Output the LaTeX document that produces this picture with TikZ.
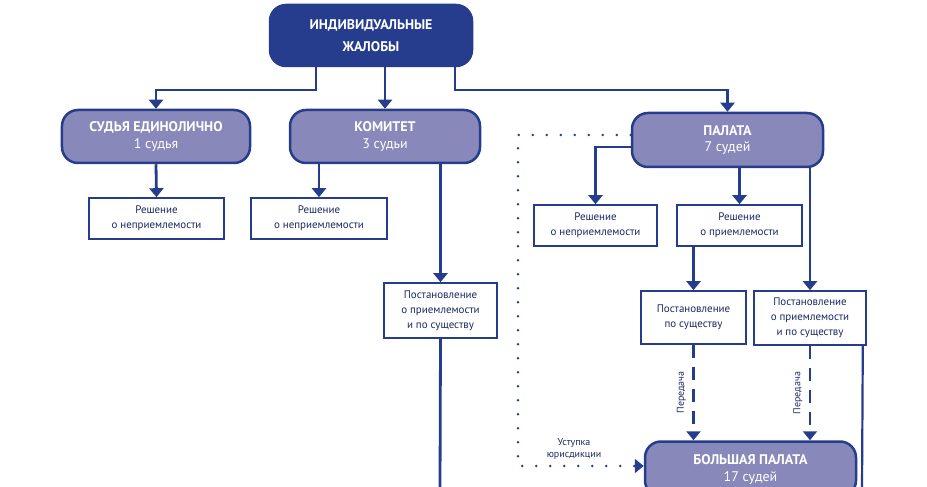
\documentclass[tikz,border=0pt]{standalone}
\usepackage{fontspec}
\setmainfont{PT Sans}
\usetikzlibrary{arrows.meta}
\definecolor{echrdark}{HTML}{263C8C}
\definecolor{echrmid}{HTML}{8889BA}
\tikzset{
  big/.style={draw=echrdark, line width=2.5bp, fill=echrmid, rounded corners=16bp,
    text=white, align=center, font=\fontsize{14}{17}\selectfont, inner sep=0pt},
  small/.style={draw=echrdark, line width=1.6bp, fill=white, text=echrdark!70!black,
    align=center, font=\fontsize{11}{15}\selectfont, inner sep=0pt},
  link/.style={draw=echrdark, line width=2.8bp},
  arr/.style={link, -{Triangle[width=14bp,length=9bp]}},
}
\begin{document}
\begin{tikzpicture}[x=1bp,y=-1bp]
\useasboundingbox (0,0) rectangle (927,487);
% boxes
\node[big, fill=echrdark, minimum width=202bp, minimum height=61bp, font=\bfseries\fontsize{14}{22}\selectfont] (top) at (371,35.5) {ИНДИВИДУАЛЬНЫЕ\\ЖАЛОБЫ};
\node[big, minimum width=188bp, minimum height=53bp] (judge) at (156,136.5) {\textbf{СУДЬЯ ЕДИНОЛИЧНО}\\1 судья};
\node[big, minimum width=190bp, minimum height=53bp] (comm) at (385,136.5) {\textbf{КОМИТЕТ}\\3 судьи};
\node[big, minimum width=191bp, minimum height=54bp] (chamber) at (727.5,140) {\textbf{ПАЛАТА}\\7 судей};
\node[big, minimum width=211bp, minimum height=55bp] (grand) at (750.5,469) {\textbf{БОЛЬШАЯ ПАЛАТА}\\17 судей};

\node[small, minimum width=135bp, minimum height=41bp] (inadm1) at (156.5,218.5) {Решение\\о неприемлемости};
\node[small, minimum width=136bp, minimum height=41bp] (inadm2) at (319,218.5) {Решение\\о неприемлемости};
\node[small, minimum width=113bp, minimum height=55bp] (commjudg) at (440.5,310.5) {Постановление\\о приемлемости\\и по существу};
\node[small, minimum width=123bp, minimum height=41bp] (inadm3) at (595.5,225.5) {Решение\\о неприемлемости};
\node[small, minimum width=125bp, minimum height=41bp] (adm) at (739.5,225.5) {Решение\\о приемлемости};
\node[small, minimum width=105bp, minimum height=53bp] (merits) at (693.5,317.5) {Постановление\\по существу};
\node[small, minimum width=112bp, minimum height=54bp] (both) at (810,318) {Постановление\\о приемлемости\\и по существу};

% connectors
\coordinate (bendL) at (316,90);
\coordinate (bendR) at (455,90);
\draw[arr] (top.south -| bendL) -- (bendL) -| (judge.north);
\draw[arr] (top.south) ++(14,0) -- (comm.north -| 385,0);
\draw[arr] (top.south -| bendR) -- (bendR) -| (chamber.north);
\draw[arr] (judge.south) -- (inadm1.north);
\draw[arr] (comm.south -| inadm2.north) -- (inadm2.north);
\draw[arr] (comm.south -| commjudg.north) -- (commjudg.north);
\coordinate (commend) at (440,490);
\draw[link] (commjudg.south) -- (commend);
\draw[arr] (chamber.west |- 0,147) -| (inadm3.north);
\draw[arr] (chamber.south -| adm.north) -- (adm.north);
\draw[arr] (chamber.south -| both.north) -- (both.north);
\draw[arr] (adm.south -| merits.north) -- (merits.north);
\draw[arr, dash pattern=on 13bp off 9bp] (merits.south) -- (grand.north -| merits.south)
  node[midway, left=3bp, rotate=90, anchor=south, font=\fontsize{10}{12}\selectfont, text=echrdark!70!black] {Передача};
\draw[arr, dash pattern=on 13bp off 9bp] (both.south) -- (grand.north -| both.south)
  node[midway, left=3bp, rotate=90, anchor=south, font=\fontsize{10}{12}\selectfont, text=echrdark!70!black] {Передача};
\coordinate (bothend) at (862,490);
\draw[link, line width=2.2bp] (both.south east) ++(-4,0) -- (bothend);
\coordinate (dotTop) at (518,135);
\coordinate (dotBot) at (518,466);
\draw[echrdark, line width=2.8bp, line cap=round, dash pattern=on 0bp off 14bp, -{Triangle[width=14bp,length=9bp,sep=0bp]}]
  (chamber.west |- dotTop) -- (dotTop) -- (dotBot) -- (grand.west |- dotBot);
\node[font=\fontsize{10}{12}\selectfont, text=echrdark!70!black, align=center] (cession) at (574,449) {Уступка\\юрисдикции};
\end{tikzpicture}
\end{document}
